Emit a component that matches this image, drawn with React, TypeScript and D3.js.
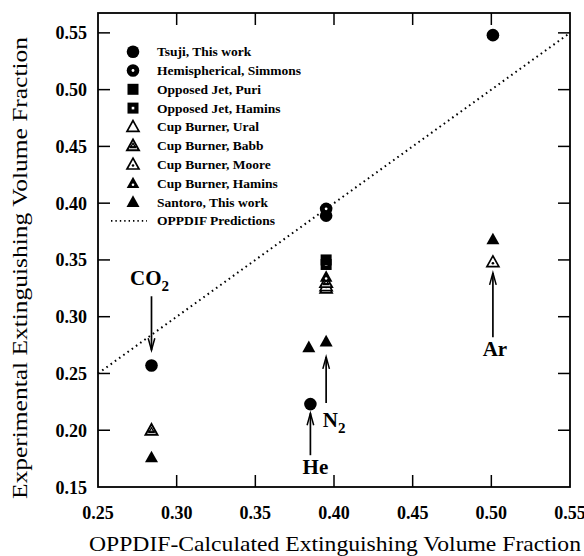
import React from "react";
import * as d3 from "d3";

// ---- data ----
const tsujiX = [0.284, 0.385, 0.395, 0.501];
const tsujiY = [0.257, 0.223, 0.389, 0.548];
const simmonsX = [0.395];
const simmonsY = [0.395];
const puriX = [0.395];
const puriY = [0.350];
const haminsOJX = [0.395];
const haminsOJY = [0.346];
const uralX = [0.395];
const uralY = [0.325];
const babbX = [0.284, 0.395];
const babbY = [0.200, 0.330];
const mooreX = [0.395, 0.501];
const mooreY = [0.327, 0.348];
const haminsCBX = [0.395];
const haminsCBY = [0.335];
const santoroX = [0.284, 0.384, 0.395, 0.501];
const santoroY = [0.176, 0.273, 0.278, 0.368];
const oppdifX = [0.25, 0.55];
const oppdifY = [0.25, 0.55];

const xTicks = [0.25, 0.3, 0.35, 0.4, 0.45, 0.5, 0.55];
const yTicks = [0.15, 0.2, 0.25, 0.3, 0.35, 0.4, 0.45, 0.5, 0.55];

const legendLabels = [
  "Tsuji, This work",
  "Hemispherical, Simmons",
  "Opposed Jet, Puri",
  "Opposed Jet, Hamins",
  "Cup Burner, Ural",
  "Cup Burner, Babb",
  "Cup Burner, Moore",
  "Cup Burner, Hamins",
  "Santoro, This work",
  "OPPDIF Predictions",
];
const legendKinds = ["circle", "circleDot", "square", "squareDot", "triOpen", "triBabb", "triMoore", "triDot", "tri", "line"];

// annotations: label, x, arrow tail y, arrow tip y (data units)
const annLabels = ["CO", "He", "N", "Ar"];
const annSubs = ["2", "", "2", ""];
const annX = [0.284, 0.385, 0.395, 0.501];
const annTail = [0.318, 0.178, 0.224, 0.282];
const annTip = [0.2705, 0.215, 0.2646, 0.3386];

const W = 584, H = 556;
const x = d3.scaleLinear().domain([0.25, 0.55]).range([98, 570]);
const y = d3.scaleLinear().domain([0.15, 0.5675]).range([487, 13]);

const serif = "'Liberation Serif', 'Times New Roman', serif";

function Marker({ kind, cx, cy }: { kind: string; cx: number; cy: number }) {
  const r = 6.3;
  const tri = (s: number) => `M${cx},${cy - s * 1.05} L${cx + s},${cy + s * 0.75} L${cx - s},${cy + s * 0.75} Z`;
  switch (kind) {
    case "circle":
      return <circle cx={cx} cy={cy} r={r} fill="#000" />;
    case "circleDot":
      return (
        <g>
          <circle cx={cx} cy={cy} r={r} fill="#000" />
          <circle cx={cx} cy={cy} r={1.4} fill="#fff" />
        </g>
      );
    case "square":
      return <rect x={cx - 5.5} y={cy - 5.5} width={11} height={11} fill="#000" />;
    case "squareDot":
      return (
        <g>
          <rect x={cx - 5.5} y={cy - 5.5} width={11} height={11} fill="#000" />
          <rect x={cx - 1.3} y={cy - 1.3} width={2.6} height={2.6} fill="#fff" />
        </g>
      );
    case "triOpen":
      return <path d={tri(6)} fill="#fff" stroke="#000" strokeWidth={1.7} strokeLinejoin="miter" />;
    case "triBabb":
      return (
        <g>
          <path d={tri(6)} fill="#fff" stroke="#000" strokeWidth={1.9} />
          <path d={`M${cx},${cy - 2.5} L${cx + 2.6},${cy + 2} L${cx - 2.6},${cy + 2} Z`} fill="none" stroke="#000" strokeWidth={1.3} />
          <line x1={cx - 4} y1={cy + 1} x2={cx + 4} y2={cy + 1} stroke="#000" strokeWidth={1.2} />
        </g>
      );
    case "triMoore":
      return (
        <g>
          <path d={tri(6)} fill="#fff" stroke="#000" strokeWidth={1.7} />
          <circle cx={cx} cy={cy + 1} r={1.3} fill="#000" />
        </g>
      );
    case "triDot":
      return (
        <g>
          <path d={tri(6.3)} fill="#000" />
          <circle cx={cx} cy={cy + 1.5} r={1.3} fill="#fff" />
        </g>
      );
    case "tri":
      return <path d={tri(6.5)} fill="#000" />;
    default:
      return null;
  }
}

function Arrow({ x0, yTail, yTip }: { x0: number; yTail: number; yTip: number }) {
  const dir = yTip > yTail ? 1 : -1;
  const hl = 12, hw = 3.3;
  return (
    <g stroke="#000" fill="none" strokeWidth={1.7}>
      <line x1={x0} y1={yTail} x2={x0} y2={yTip} />
      <path d={`M${x0 - hw},${yTip - dir * hl} L${x0},${yTip} L${x0 + hw},${yTip - dir * hl}`} strokeWidth={1.5} />
    </g>
  );
}

export default function App() {
  const line = d3.line<number>().x((d, i) => x(oppdifX[i])).y((d, i) => y(oppdifY[i]));
  const series: { kind: string; xs: number[]; ys: number[] }[] = [
    { kind: "triOpen", xs: uralX, ys: uralY },
    { kind: "triMoore", xs: mooreX, ys: mooreY },
    { kind: "triBabb", xs: babbX, ys: babbY },
    { kind: "triDot", xs: haminsCBX, ys: haminsCBY },
    { kind: "tri", xs: santoroX, ys: santoroY },
    { kind: "squareDot", xs: haminsOJX, ys: haminsOJY },
    { kind: "square", xs: puriX, ys: puriY },
    { kind: "circle", xs: tsujiX, ys: tsujiY },
    { kind: "circleDot", xs: simmonsX, ys: simmonsY },
  ];
  const [x0, x1] = x.range();
  const yTop = y.range()[1];
  const yBot = y.range()[0];
  const tl = 12;
  const legX = 133, legY0 = 51.7, legDy = 18.8;
  // label offsets relative to arrow tail (pixels)
  const annLabelPos: { dx: number; dy: number }[] = [
    { dx: -2, dy: -11 },
    { dx: 5, dy: 19 },
    { dx: 8, dy: 24 },
    { dx: 2, dy: 19 },
  ];
  return (
    <svg width={W} height={H} style={{ position: "absolute", left: 0, top: 0, background: "#fff" }} fontFamily={serif}>
      <rect width={W} height={H} fill="#fff" />
      {/* OPPDIF dotted line */}
      <path d={line(oppdifX) || ""} fill="none" stroke="#000" strokeWidth={2} strokeDasharray="1.6,3.6" />
      {/* frame */}
      <rect x={x0} y={yTop} width={x1 - x0} height={yBot - yTop} fill="none" stroke="#000" strokeWidth={1.8} />
      {/* ticks */}
      {xTicks.slice(1, -1).map((t) => (
        <g key={"xt" + t} stroke="#000" strokeWidth={1.5}>
          <line x1={x(t)} x2={x(t)} y1={yBot} y2={yBot - tl} />
          <line x1={x(t)} x2={x(t)} y1={yTop} y2={yTop + tl} />
        </g>
      ))}
      {yTicks.slice(1).map((t) => (
        <g key={"yt" + t} stroke="#000" strokeWidth={1.5}>
          <line x1={x0} x2={x0 + tl} y1={y(t)} y2={y(t)} />
          <line x1={x1} x2={x1 - tl} y1={y(t)} y2={y(t)} />
        </g>
      ))}
      {xTicks.map((t) => (
        <text key={"xl" + t} x={x(t)} y={519} textAnchor="middle" fontWeight="bold" fontSize={18}>
          {t.toFixed(2)}
        </text>
      ))}
      {yTicks.map((t) => (
        <text key={"yl" + t} x={87} y={y(t) + 6.5} textAnchor="end" fontWeight="bold" fontSize={18}>
          {t.toFixed(2)}
        </text>
      ))}
      <text x={335} y={551} textAnchor="middle" fontSize={21.5} textLength={492} lengthAdjust="spacingAndGlyphs">
        OPPDIF-Calculated Extinguishing Volume Fraction
      </text>
      <text transform={`translate(27,268) rotate(-90)`} textAnchor="middle" fontSize={21} textLength={462} lengthAdjust="spacingAndGlyphs">
        Experimental Extinguishing Volume Fraction
      </text>
      {/* markers */}
      {series.map((s) =>
        s.xs.map((xv, i) => <Marker key={s.kind + i} kind={s.kind} cx={x(xv)} cy={y(s.ys[i])} />)
      )}
      {/* annotations */}
      {annLabels.map((lab, i) => {
        const px = x(annX[i]);
        const pTail = y(annTail[i]);
        const pTip = y(annTip[i]);
        const ly = pTail + annLabelPos[i].dy;
        return (
          <g key={"ann" + i}>
            <Arrow x0={px} yTail={pTail} yTip={pTip} />
            <text x={px + annLabelPos[i].dx} y={ly} textAnchor="middle" fontWeight="bold" fontSize={21}>
              {lab}
              {annSubs[i] ? (
                <tspan fontSize={15} dy={6}>
                  {annSubs[i]}
                </tspan>
              ) : null}
            </text>
          </g>
        );
      })}
      {/* legend */}
      {legendLabels.map((lab, i) => {
        const cy = legY0 + i * legDy;
        return (
          <g key={"leg" + i}>
            {legendKinds[i] === "line" ? (
              <line x1={111} x2={147} y1={cy} y2={cy} stroke="#000" strokeWidth={1.6} strokeDasharray="1.4,3" />
            ) : (
              <Marker kind={legendKinds[i]} cx={legX} cy={cy} />
            )}
            <text x={157} y={cy + 4.5} fontWeight="bold" fontSize={13.5}>
              {lab}
            </text>
          </g>
        );
      })}
    </svg>
  );
}
